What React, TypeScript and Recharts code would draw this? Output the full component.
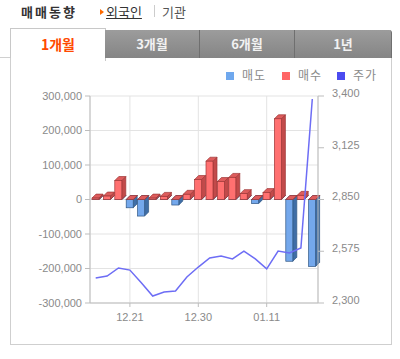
import { Bar, CartesianGrid, ComposedChart, Line, XAxis, YAxis } from "recharts";

// trading days shown on the 1-month tab
const dates = [
  "12.16", "12.17", "12.18", "12.21", "12.22", "12.23", "12.24", "12.28", "12.29", "12.30",
  "01.04", "01.05", "01.06", "01.07", "01.08", "01.11", "01.12", "01.13", "01.14", "01.15",
];

// net foreign buying (매수) and selling (매도), shares
const buyVolume = [
  4000, 10000, 55000, 0, 0, 4000, 9000, 0, 15000, 58000,
  111000, 52000, 64000, 17000, 0, 20000, 234000, 0, 12000, 0,
];
const sellVolume = [
  0, 0, 0, -24000, -48000, 0, 0, -16000, 0, 0,
  0, 0, 0, 0, -12000, 0, 0, -179000, 0, -194000,
];

// closing price (주가)
const closePrice = [
  2433, 2443, 2486, 2475, 2408, 2337, 2358, 2364, 2438, 2491,
  2539, 2550, 2534, 2576, 2534, 2481, 2576, 2566, 2592, 3384,
];

const dateTicks = ["12.21", "12.30", "01.11"];
const volumeTicks = [-300000, -200000, -100000, 0, 100000, 200000, 300000];
const priceTicks = [2300, 2575, 2850, 3125, 3400];
const periodTabs = ["1개월", "3개월", "6개월", "1년"];

const chartData = dates.map((date, i) => ({
  date,
  buy: buyVolume[i],
  sell: sellVolume[i],
  price: closePrice[i],
}));

const RED = { front: "#ff7070", side: "#c24a4a", top: "#dd5c5c", edge: "#9e3636" };
const BLUE = { front: "#74a8ec", side: "#3f6ea6", top: "#5b8fd4", edge: "#2f5684" };
const DEPTH = 4;

const Box3D = (props: any) => {
  const { x, y, width, height, colors } = props;
  if (x == null || y == null) return null;
  const top = Math.min(y, y + (height || 0));
  const h = Math.abs(height || 0);
  const r = x + width;
  const b = top + h;
  return (
    <g stroke={colors.edge} strokeWidth={0.7}>
      <polygon
        points={`${r},${top} ${r + DEPTH},${top - DEPTH} ${r + DEPTH},${b - DEPTH} ${r},${b}`}
        fill={colors.side}
      />
      <polygon
        points={`${x},${top} ${x + DEPTH},${top - DEPTH} ${r + DEPTH},${top - DEPTH} ${r},${top}`}
        fill={colors.top}
      />
      <rect x={x} y={top} width={width} height={h} fill={colors.front} />
    </g>
  );
};

const fmt = (v: number) => v.toLocaleString("en-US");

const tickStyle = { fill: "#8a8a8a", fontSize: 11, fontFamily: "'Liberation Sans', Arial, sans-serif" };

const legendItems = [
  { label: "매도", color: "#6fa8ee", left: 226 },
  { label: "매수", color: "#ff6666", left: 282 },
  { label: "주가", color: "#4b4bf0", left: 337 },
];

export default function App() {
  const grayTabs = [
    { left: 105, width: 95 },
    { left: 200, width: 95 },
    { left: 295, width: 97 },
  ];

  return (
    <div
      style={{
        position: "absolute",
        left: 0,
        top: 0,
        width: 400,
        height: 359,
        background: "#fff",
        overflow: "hidden",
        fontFamily: "'Noto Sans CJK KR', sans-serif",
      }}
    >
      {/* header */}
      <div style={{ position: "absolute", left: 21, top: 3, fontSize: 13, fontWeight: 700, letterSpacing: 2, color: "#333", lineHeight: "18px" }}>
        매매동향
      </div>
      <div
        style={{
          position: "absolute",
          left: 100,
          top: 9,
          width: 0,
          height: 0,
          borderLeft: "4px solid #ff6a00",
          borderTop: "3px solid transparent",
          borderBottom: "3px solid transparent",
        }}
      />
      <div style={{ position: "absolute", left: 106, top: 3, fontSize: 13, color: "#333", textDecoration: "underline", lineHeight: "18px" }}>
        외국인
      </div>
      <div style={{ position: "absolute", left: 154, top: 5, width: 1, height: 12, background: "#ccc" }} />
      <div style={{ position: "absolute", left: 162, top: 3, fontSize: 13, color: "#555", lineHeight: "18px" }}>
        기관
      </div>

      {/* tabs */}
      <div style={{ position: "absolute", left: 0, top: 57, width: 10, height: 1, background: "#d0d0d0" }} />
      <div
        style={{
          position: "absolute",
          left: 10,
          top: 28,
          width: 94,
          height: 32,
          background: "#fff",
          border: "1px solid #c8c8c8",
          borderBottom: "none",
          textAlign: "center",
          lineHeight: "30px",
          fontSize: 14,
          fontWeight: 700,
          color: "#ff4a00",
        }}
      >
        {periodTabs[0]}
      </div>
      {grayTabs.map((t, i) => (
        <div
          key={periodTabs[i + 1]}
          style={{
            position: "absolute",
            left: t.left,
            top: 30,
            width: t.width - 1,
            height: 28,
            background: "linear-gradient(#9c9c9c, #858585)",
            borderRight: "1px solid #6f6f6f",
            borderTopRightRadius: i === 2 ? 3 : 0,
            textAlign: "center",
            lineHeight: "27px",
            fontSize: 13,
            fontWeight: 700,
            color: "#f2f2f2",
          }}
        >
          {periodTabs[i + 1]}
        </div>
      ))}

      {/* content box */}
      <div
        style={{
          position: "absolute",
          left: 10,
          top: 58,
          width: 380,
          height: 286,
          borderLeft: "1px solid #cfcfcf",
          borderRight: "1px solid #cfcfcf",
          borderBottom: "1px solid #cfcfcf",
        }}
      />

      {/* legend */}
      {legendItems.map((item) => (
        <div key={item.label}>
          <div style={{ position: "absolute", left: item.left, top: 72, width: 8, height: 8, background: item.color }} />
          <div style={{ position: "absolute", left: item.left + 16, top: 66, fontSize: 12, letterSpacing: 1, color: "#8a8a8a", lineHeight: "18px" }}>
            {item.label}
          </div>
        </div>
      ))}

      <div style={{ position: "absolute", left: 0, top: 60 }}>
        <ComposedChart
          width={392}
          height={280}
          data={chartData}
          stackOffset="sign"
          margin={{ top: 36, right: 0, left: 0, bottom: 7 }}
        >
          <CartesianGrid yAxisId="vol" stroke="#e3e3e3" />
          <XAxis
            dataKey="date"
            ticks={dateTicks}
            interval={0}
            tickSize={4}
            tickMargin={6}
            height={30}
            stroke="#bdbdbd"
            tick={tickStyle}
          />
          <YAxis
            yAxisId="vol"
            domain={[-300000, 300000]}
            ticks={volumeTicks}
            tickFormatter={fmt}
            width={90}
            tickSize={5}
            tickMargin={3}
            stroke="#bdbdbd"
            tick={tickStyle}
          />
          <YAxis
            yAxisId="price"
            orientation="right"
            domain={[2300, 3400]}
            ticks={priceTicks}
            tickFormatter={fmt}
            width={74}
            tickSize={6}
            tickMargin={8}
            stroke="#bdbdbd"
            tick={{ ...tickStyle, dy: -3 }}
          />
          <Bar
            yAxisId="vol"
            dataKey="sell"
            name="매도"
            stackId="net"
            barSize={7}
            isAnimationActive={false}
            shape={(p: any) => <Box3D {...p} colors={BLUE} />}
          />
          <Bar
            yAxisId="vol"
            dataKey="buy"
            name="매수"
            stackId="net"
            barSize={7}
            isAnimationActive={false}
            shape={(p: any) => <Box3D {...p} colors={RED} />}
          />
          <Line
            yAxisId="price"
            dataKey="price"
            name="주가"
            type="linear"
            stroke="#6d6df5"
            strokeWidth={1.5}
            dot={false}
            isAnimationActive={false}
          />
        </ComposedChart>
      </div>
    </div>
  );
}
